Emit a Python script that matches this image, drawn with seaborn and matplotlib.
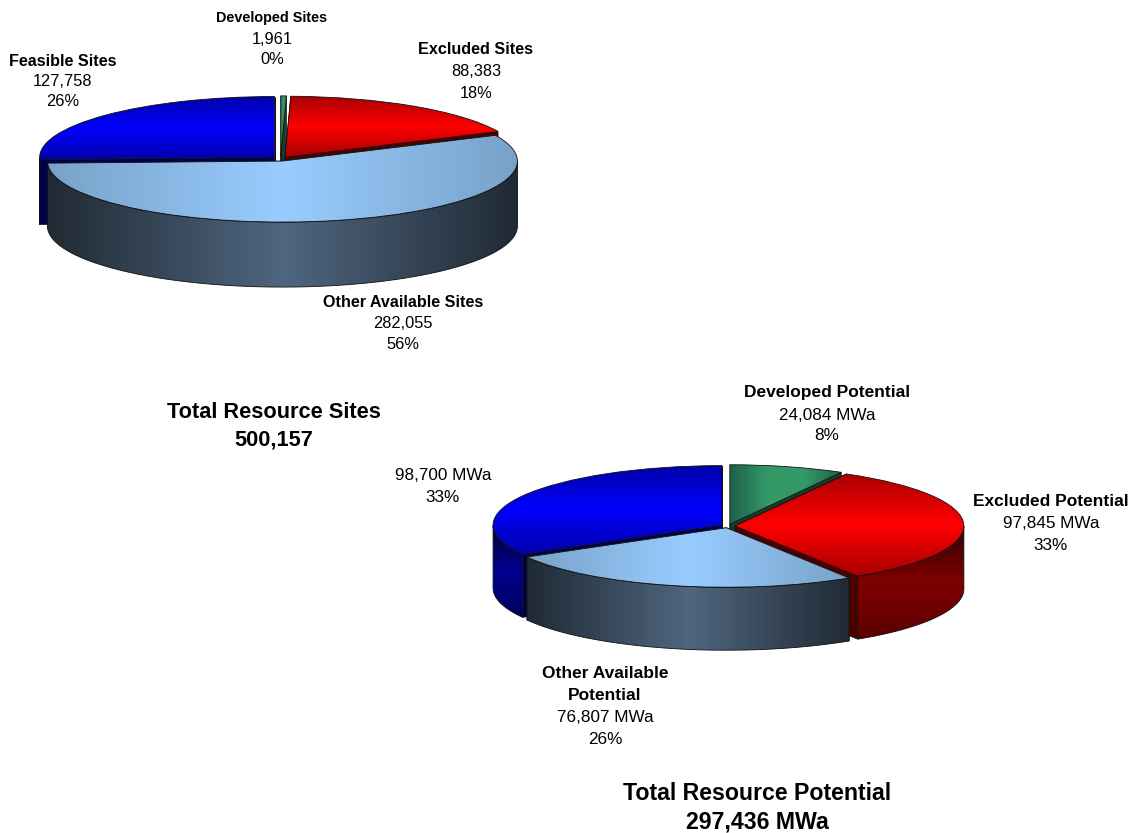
import numpy as np
import matplotlib
matplotlib.use('Agg')
import matplotlib.pyplot as plt
from matplotlib.patches import Polygon
import seaborn as sns

sns.set_theme(style='white')
plt.rcParams['font.family'] = ['Liberation Sans', 'DejaVu Sans']

# slices in clockwise order from 12 o'clock
slice_kinds = ['green', 'red', 'light', 'blue']
site_values = [1961, 88383, 282055, 127758]
potential_values = [24084, 97845, 76807, 98700]

# label text: (centre x px, centre y px, text, bold)
site_labels = [
    (272, 18, 'Developed Sites', True), (272, 39, '1,961', False), (272, 60, '0%', False),
    (63, 61, 'Feasible Sites', True), (63, 81, '127,758', False), (63, 101, '26%', False),
    (476, 50, 'Excluded Sites', True), (476, 72, '88,383', False), (476, 93, '18%', False),
    (403, 302, 'Other Available Sites', True), (403, 323, '282,055', False), (403, 345, '56%', False),
]
potential_labels = [
    (827, 393, 'Developed Potential', True), (827, 415, '24,084 MWa', False), (827, 436, '8%', False),
    (1051, 502, 'Excluded Potential', True), (1051, 523, '97,845 MWa', False), (1051, 545, '33%', False),
    (443, 476, '98,700 MWa', False), (443, 498, '33%', False),
    (605, 673, 'Other Available', True), (605, 696, 'Potential', True),
    (605, 717, '76,807 MWa', False), (605, 739, '26%', False),
]
totals = [
    (274, 413, 'Total Resource Sites', 15.7), (274, 440, '500,157', 15.7),
    (757, 794, 'Total Resource Potential', 16.7), (757, 822, '297,436 MWa', 16.7),
]

# (direction of gradient, top colours, wall colours, cut face colour)
styles = {
    'green': ('h', ['#20604a', '#339966', '#339966', '#20604a'], ['#1a4d33', '#0d3322'], '#143f2c'),
    'red': ('v', ['#a80000', '#ff0000', '#a80000'], ['#5a0000', '#800000', '#300000'], '#4d0000'),
    'light': ('h', ['#78a2c8', '#99ccff', '#78a2c8'], ['#202a34', '#4f6680', '#202a34'], '#202a34'),
    'blue': ('v', ['#0000a8', '#0000ff', '#0000a8'], ['#00005a', '#000090', '#000030'], '#00004d'),
}

W, H = 1133, 833
fig = plt.figure(figsize=(W / 100, H / 100), dpi=100, facecolor='white')


def gradient_fill(ax, patch, points, colors, vertical, zorder):
    """Fill patch with a blended gradient spanning its own points."""
    cmap = sns.blend_palette(colors, as_cmap=True)
    ramp = np.linspace(0, 1, 256).reshape(-1, 1)
    if not vertical:
        ramp = ramp.T
    x0, y0 = points.min(axis=0)
    x1, y1 = points.max(axis=0)
    im = ax.imshow(ramp, cmap=cmap, extent=(x0, x1, y0, y1), origin='lower',
                   aspect='auto', zorder=zorder, vmin=0, vmax=1)
    im.set_clip_path(patch)


def draw_pie(center, radius, ry, depth, values, explode, draw_order):
    """Exploded pie drawn with ax.pie, squashed and extruded to look 3D."""
    cx, cy = center
    dz = depth / ry
    x_lim = (-1.2, 1.2)
    y_lim = (-1.2 - dz, 1.2)
    left = cx + x_lim[0] * radius
    bottom = cy + ry * 1.2 + depth
    ax = fig.add_axes([left / W, 1 - bottom / H,
                       2.4 * radius / W, (2.4 * ry + depth) / H])
    wedges, _ = ax.pie(values, explode=explode, startangle=90, counterclock=False,
                       radius=1, wedgeprops=dict(linewidth=0.6, edgecolor='#111111'))
    for kind_idx in draw_order:
        w = wedges[kind_idx]
        direction, top_cols, wall_cols, cut_col = styles[slice_kinds[kind_idx]]
        base = 10 + draw_order.index(kind_idx) * 10
        xc, yc = w.center
        theta = np.radians(np.linspace(w.theta1, w.theta2, 300))
        rim = np.column_stack([xc + np.cos(theta), yc + np.sin(theta)])
        apex = np.array([xc, yc])
        drop = np.array([0, -dz])

        # cut faces
        for end in (rim[0], rim[-1]):
            quad = np.array([apex, end, end + drop, apex + drop])
            ax.add_patch(Polygon(quad, closed=True, facecolor=cut_col, edgecolor='#111111',
                                 linewidth=0.5, zorder=base))

        # curved wall, front half only
        front = np.sin(theta) <= 0
        if front.sum() > 1:
            arc = rim[front]
            wall_pts = np.vstack([arc, (arc + drop)[::-1]])
            wall = Polygon(wall_pts, closed=True, facecolor='none', edgecolor='#111111',
                           linewidth=0.6, zorder=base + 2)
            ax.add_patch(wall)
            gradient_fill(ax, wall, wall_pts, wall_cols, slice_kinds[kind_idx] != 'light', base + 1)

        # top face is the pie wedge itself
        w.set_facecolor('none')
        w.set_zorder(base + 4)
        gradient_fill(ax, w, np.vstack([rim, apex]), top_cols, direction == 'v', base + 3)

    ax.set_aspect('auto')
    ax.set_xlim(*x_lim)
    ax.set_ylim(*y_lim)
    ax.axis('off')
    ax.patch.set_alpha(0)


draw_pie((280.5, 159), 235, 61, 65, site_values, [0.035] * 4, [0, 1, 3, 2])
draw_pie((728, 526), 229, 59.5, 63, potential_values, [0.03] * 4, [0, 3, 1, 2])

for x, y, text, bold in site_labels:
    size = 11.6 if bold else 11.8
    if text == 'Developed Sites':
        size = 10.4
    fig.text(x / W, 1 - y / H, text, ha='center', va='center', fontsize=size,
             fontweight='bold' if bold else 'normal', color='black')
for x, y, text, bold in potential_labels:
    fig.text(x / W, 1 - y / H, text, ha='center', va='center',
             fontsize=12.5 if bold else 12.3,
             fontweight='bold' if bold else 'normal', color='black')
for x, y, text, size in totals:
    fig.text(x / W, 1 - y / H, text, ha='center', va='center', fontsize=size,
             fontweight='bold', color='black')

fig.savefig('out.png', dpi=100, facecolor='white')
